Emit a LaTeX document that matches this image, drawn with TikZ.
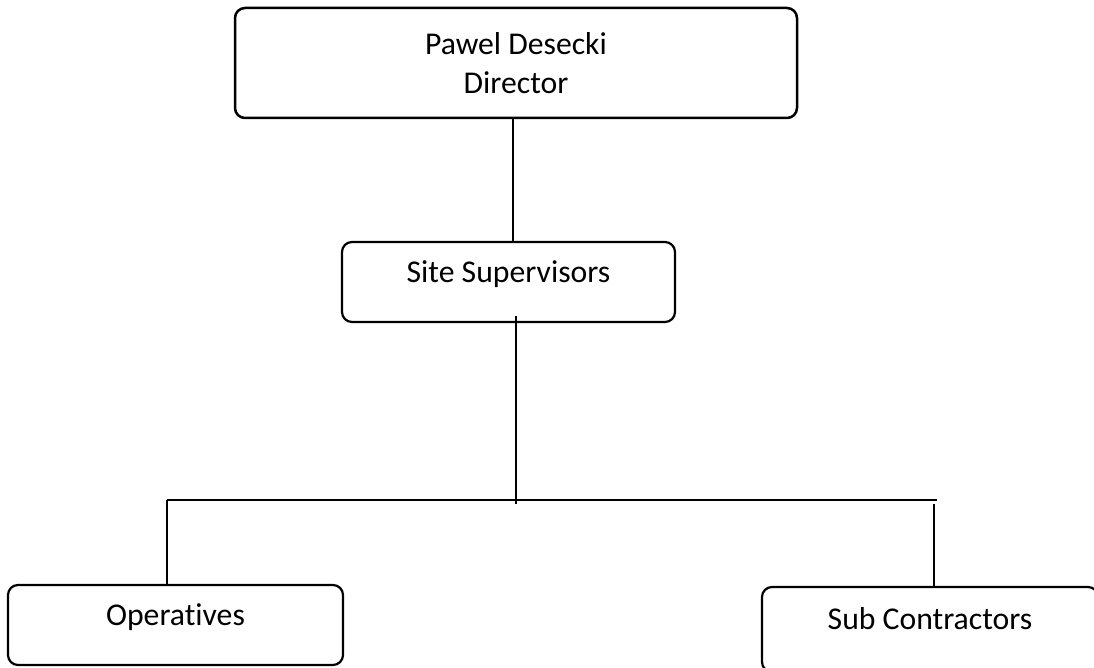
\documentclass[tikz,border=0pt]{standalone}
\usepackage{fontspec}
\setmainfont{Carlito}[Ligatures={NoCommon,NoContextual}]
\usepackage{tikz}
\usetikzlibrary{positioning,calc}

\begin{document}
\begin{tikzpicture}[x=1pt,y=1pt,
  box/.style={draw,rounded corners=10pt,line width=2.2pt,align=center,inner sep=0pt,
    font=\fontsize{31.7pt}{39pt}\selectfont},
  unit/.style={box,text height=20pt,text depth=20pt},
  link/.style={line width=2pt}
]
\useasboundingbox (0,0) rectangle (1094,-668);
\node[box,minimum width=562pt,minimum height=110pt,line width=2.5pt] (dir) at (516,-63) {Pawel Desecki\\Director};
\node[unit,minimum width=333pt,minimum height=80pt] (sup) at (508.5,-282) {Site Supervisors};
\node[unit,minimum width=335pt,minimum height=80pt] (ops) at (175.5,-625) {Operatives};
\node[unit,minimum width=336pt,minimum height=85pt] (sub) at (930,-629.5) {Sub Contractors};
% bus line
\coordinate (busl) at (167,-500);
\coordinate (busr) at (937,-500);
\draw[link] ([xshift=-3pt]dir.south) -- ([xshift=-3pt]dir.south |- sup.north);
\draw[link] ([xshift=7.5pt,yshift=7pt]sup.south) -- ([xshift=7.5pt,yshift=-4pt]sup.south |- busl);
\draw[link] (busl) -- (busr);
\draw[link] (busl) -- (busl |- ops.north);
\draw[link] ([xshift=4pt,yshift=-4pt]sub.north |- busr) -- ([xshift=4pt]sub.north);
\end{tikzpicture}
\end{document}
